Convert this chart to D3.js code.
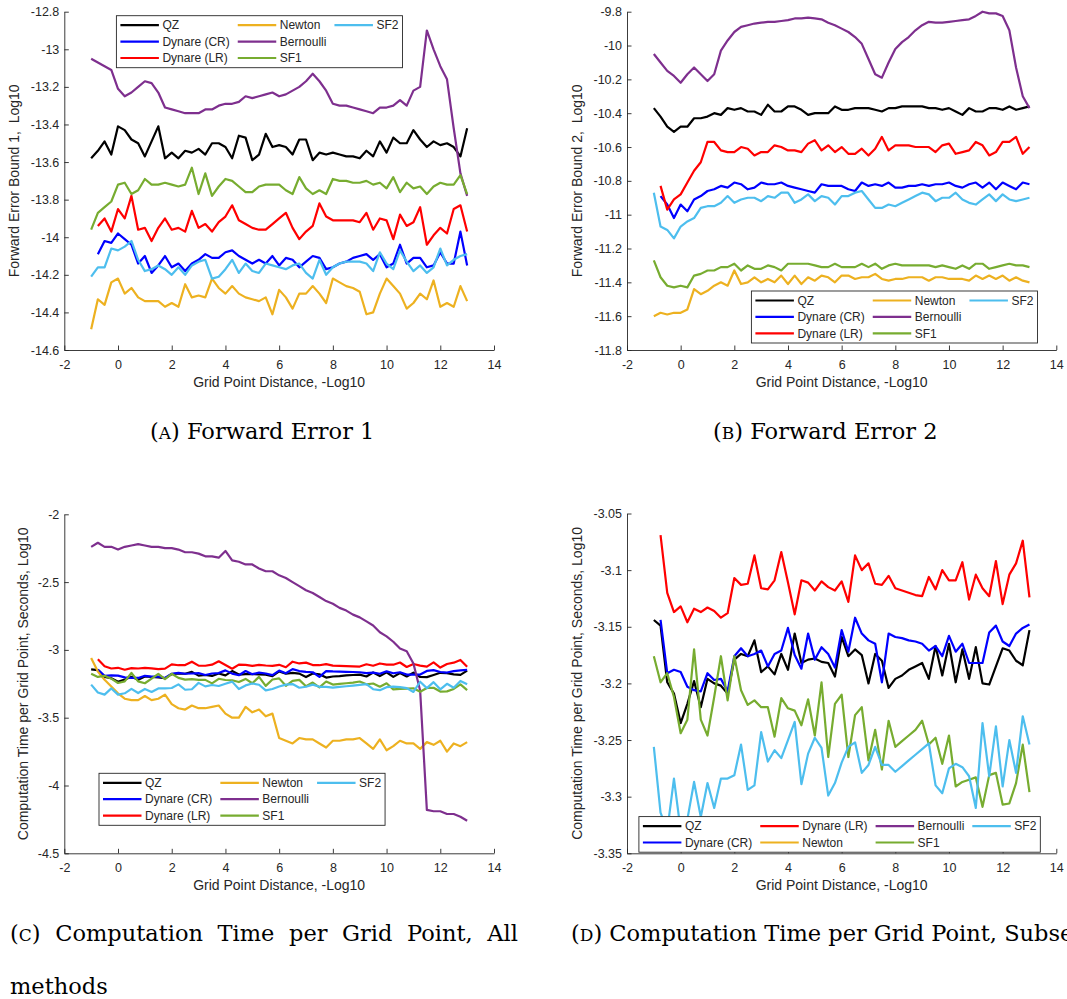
<!DOCTYPE html>
<html>
<head>
<meta charset="utf-8">
<script src="https://cdn.jsdelivr.net/npm/d3@7"></script>
<style>
  body { margin: 0; background: #fff; }
  svg { display: block; }
</style>
</head>
<body>
<script>
// grid point distance, -log10 (same grid for every panel)
const gridX = [
  -1, -0.75, -0.5, -0.25, 0, 0.25, 0.5, 0.75, 1, 1.25, 1.5, 1.75,
  2, 2.25, 2.5, 2.75, 3, 3.25, 3.5, 3.75, 4, 4.25, 4.5, 4.75,
  5, 5.25, 5.5, 5.75, 6, 6.25, 6.5, 6.75, 7, 7.25, 7.5, 7.75,
  8, 8.25, 8.5, 8.75, 9, 9.25, 9.5, 9.75, 10, 10.25, 10.5, 10.75,
  11, 11.25, 11.5, 11.75, 12, 12.25, 12.5, 12.75, 13
]

const methods = ['QZ', 'Dynare (CR)', 'Dynare (LR)', 'Newton', 'Bernoulli', 'SF1', 'SF2']
const methodColors = ['#000000', '#0000ff', '#ff0000', '#edb120', '#7e2f8e', '#77ac30', '#4dbeee']

const xTicks = [-2, 0, 2, 4, 6, 8, 10, 12, 14]
const fe1Ticks = [-12.8, -13, -13.2, -13.4, -13.6, -13.8, -14, -14.2, -14.4, -14.6]
const fe2Ticks = [-9.8, -10, -10.2, -10.4, -10.6, -10.8, -11, -11.2, -11.4, -11.6, -11.8]
const timeAllTicks = [-2, -2.5, -3, -3.5, -4, -4.5]
const timeSubTicks = [-3.05, -3.1, -3.15, -3.2, -3.25, -3.3, -3.35]

// forward error bound 1, log10
const fe1QZ = [
  -13.58, -13.54, -13.49, -13.56, -13.41, -13.43, -13.48, -13.50,
  -13.57, -13.49, -13.41, -13.58, -13.55, -13.58, -13.54, -13.55,
  -13.53, -13.56, -13.50, -13.50, -13.52, -13.58, -13.46, -13.47,
  -13.59, -13.56, -13.45, -13.52, -13.51, -13.52, -13.56, -13.48,
  -13.48, -13.59, -13.55, -13.56, -13.55, -13.56, -13.57, -13.57,
  -13.58, -13.54, -13.57, -13.49, -13.55, -13.47, -13.50, -13.50,
  -13.43, -13.48, -13.52, -13.49, -13.51, -13.50, -13.52, -13.57, -13.42
]
const fe1DynareCR = [
  null, -14.09, -14.02, -14.03, -13.98, -14.01, -14.04, -14.14,
  -14.10, -14.19, -14.15, -14.10, -14.16, -14.14, -14.18, -14.14,
  -14.12, -14.09, -14.11, -14.11, -14.08, -14.07, -14.10, -14.12,
  -14.14, -14.12, -14.14, -14.10, -14.15, -14.11, -14.12, -14.16,
  -14.13, -14.10, -14.11, -14.17, -14.16, -14.14, -14.13, -14.11,
  -14.10, -14.09, -14.12, -14.09, -14.16, -14.14, -14.04, -14.14,
  -14.11, -14.11, -14.16, -14.15, -14.08, -14.14, -14.14, -13.97, -14.15
]
const fe1DynareLR = [
  null, -13.94, -13.90, -13.97, -13.85, -13.90, -13.78, -13.96,
  -13.95, -14.02, -13.95, -13.90, -13.96, -13.95, -13.97, -13.86,
  -13.95, -13.93, -13.97, -13.92, -13.89, -13.83, -13.91, -13.93,
  -13.95, -13.96, -13.96, -13.93, -13.90, -13.87, -13.95, -14.01,
  -13.97, -13.94, -13.82, -13.89, -13.91, -13.91, -13.91, -13.91,
  -13.92, -13.87, -13.96, -13.90, -13.91, -14.01, -13.88, -13.94,
  -13.92, -13.84, -14.04, -13.99, -13.95, -13.98, -13.85, -13.83, -13.97
]
const fe1Newton = [
  -14.49, -14.33, -14.36, -14.24, -14.22, -14.30, -14.27, -14.32,
  -14.34, -14.34, -14.34, -14.37, -14.35, -14.37, -14.25, -14.32,
  -14.31, -14.32, -14.22, -14.27, -14.30, -14.26, -14.30, -14.32,
  -14.33, -14.34, -14.32, -14.41, -14.28, -14.32, -14.38, -14.30,
  -14.30, -14.26, -14.30, -14.35, -14.22, -14.24, -14.26, -14.27,
  -14.29, -14.41, -14.40, -14.30, -14.22, -14.26, -14.30, -14.38,
  -14.35, -14.30, -14.33, -14.23, -14.37, -14.35, -14.37, -14.26, -14.34
]
const fe1Bernoulli = [
  -13.05, -13.07, -13.09, -13.11, -13.21, -13.25, -13.23, -13.20,
  -13.17, -13.18, -13.23, -13.31, -13.32, -13.33, -13.34, -13.34,
  -13.34, -13.32, -13.32, -13.30, -13.29, -13.29, -13.28, -13.25,
  -13.26, -13.25, -13.24, -13.23, -13.25, -13.24, -13.22, -13.20,
  -13.17, -13.13, -13.17, -13.22, -13.29, -13.30, -13.30, -13.31,
  -13.32, -13.33, -13.34, -13.31, -13.31, -13.30, -13.27, -13.30,
  -13.22, -13.20, -12.90, -13.00, -13.09, -13.16, -13.42, -13.66, -13.78
]
const fe1SF1 = [
  -13.96, -13.87, -13.84, -13.81, -13.72, -13.71, -13.77, -13.75,
  -13.69, -13.72, -13.72, -13.71, -13.72, -13.73, -13.72, -13.63,
  -13.77, -13.66, -13.78, -13.73, -13.69, -13.70, -13.73, -13.76,
  -13.76, -13.73, -13.72, -13.72, -13.72, -13.75, -13.77, -13.68,
  -13.74, -13.77, -13.75, -13.77, -13.69, -13.70, -13.70, -13.71,
  -13.71, -13.70, -13.72, -13.71, -13.74, -13.68, -13.76, -13.71,
  -13.74, -13.73, -13.77, -13.73, -13.71, -13.72, -13.72, -13.67, -13.77
]
const fe1SF2 = [
  -14.21, -14.16, -14.16, -14.06, -14.07, -14.05, -14.02, -14.12,
  -14.18, -14.17, -14.15, -14.17, -14.20, -14.16, -14.20, -14.15,
  -14.13, -14.12, -14.22, -14.21, -14.17, -14.12, -14.19, -14.14,
  -14.18, -14.19, -14.14, -14.15, -14.16, -14.17, -14.15, -14.14,
  -14.19, -14.22, -14.12, -14.20, -14.16, -14.14, -14.13, -14.13,
  -14.13, -14.14, -14.18, -14.08, -14.14, -14.17, -14.07, -14.13,
  -14.18, -14.15, -14.19, -14.16, -14.06, -14.15, -14.12, -14.10, -14.09
]

// forward error bound 2, log10
const fe2QZ = [
  -10.37, -10.42, -10.48, -10.51, -10.48, -10.48, -10.43, -10.43,
  -10.42, -10.40, -10.41, -10.37, -10.38, -10.37, -10.39, -10.39,
  -10.41, -10.35, -10.39, -10.39, -10.36, -10.36, -10.38, -10.41,
  -10.40, -10.40, -10.40, -10.36, -10.38, -10.38, -10.37, -10.37,
  -10.37, -10.38, -10.39, -10.37, -10.37, -10.36, -10.36, -10.36,
  -10.36, -10.37, -10.37, -10.38, -10.37, -10.39, -10.41, -10.37,
  -10.39, -10.39, -10.37, -10.37, -10.38, -10.36, -10.38, -10.37, -10.36
]
const fe2DynareCR = [
  null, -10.89, -10.94, -11.02, -10.94, -10.98, -10.91, -10.89,
  -10.86, -10.85, -10.83, -10.84, -10.81, -10.82, -10.85, -10.84,
  -10.81, -10.82, -10.82, -10.81, -10.83, -10.84, -10.85, -10.86,
  -10.87, -10.82, -10.83, -10.83, -10.83, -10.85, -10.86, -10.81,
  -10.83, -10.82, -10.83, -10.81, -10.84, -10.84, -10.83, -10.83,
  -10.82, -10.83, -10.82, -10.82, -10.81, -10.83, -10.84, -10.82,
  -10.81, -10.84, -10.81, -10.85, -10.81, -10.83, -10.85, -10.81, -10.82
]
const fe2DynareLR = [
  null, -10.83, -10.97, -10.91, -10.88, -10.81, -10.74, -10.69,
  -10.57, -10.57, -10.62, -10.63, -10.63, -10.60, -10.61, -10.65,
  -10.63, -10.63, -10.59, -10.60, -10.62, -10.62, -10.63, -10.58,
  -10.56, -10.62, -10.59, -10.63, -10.60, -10.64, -10.64, -10.61,
  -10.65, -10.61, -10.54, -10.62, -10.59, -10.59, -10.59, -10.60,
  -10.60, -10.60, -10.63, -10.59, -10.58, -10.64, -10.63, -10.62,
  -10.57, -10.59, -10.65, -10.63, -10.57, -10.57, -10.54, -10.64, -10.60
]
const fe2Newton = [
  -11.60, -11.58, -11.59, -11.58, -11.58, -11.56, -11.44, -11.47,
  -11.45, -11.42, -11.40, -11.42, -11.33, -11.41, -11.40, -11.37,
  -11.40, -11.38, -11.40, -11.36, -11.41, -11.36, -11.41, -11.37,
  -11.39, -11.36, -11.37, -11.40, -11.36, -11.36, -11.38, -11.37,
  -11.37, -11.35, -11.38, -11.39, -11.38, -11.38, -11.37, -11.37,
  -11.37, -11.39, -11.37, -11.37, -11.38, -11.38, -11.38, -11.39,
  -11.36, -11.38, -11.36, -11.38, -11.36, -11.39, -11.37, -11.39, -11.40
]
const fe2Bernoulli = [
  -10.05, -10.10, -10.15, -10.18, -10.22, -10.17, -10.13, -10.17,
  -10.21, -10.17, -10.03, -9.97, -9.92, -9.89, -9.88, -9.87,
  -9.865, -9.86, -9.86, -9.855, -9.85, -9.84, -9.84, -9.835,
  -9.84, -9.845, -9.865, -9.88, -9.90, -9.92, -9.95, -9.99,
  -10.08, -10.17, -10.19, -10.10, -10.02, -9.98, -9.95, -9.91,
  -9.88, -9.86, -9.865, -9.865, -9.86, -9.855, -9.85, -9.845,
  -9.825, -9.80, -9.81, -9.81, -9.825, -9.91, -10.13, -10.30, -10.37
]
const fe2SF1 = [
  -11.27, -11.37, -11.42, -11.43, -11.42, -11.43, -11.36, -11.35,
  -11.33, -11.33, -11.31, -11.31, -11.29, -11.33, -11.30, -11.32,
  -11.32, -11.30, -11.31, -11.33, -11.29, -11.29, -11.29, -11.29,
  -11.30, -11.31, -11.31, -11.29, -11.31, -11.31, -11.31, -11.29,
  -11.31, -11.29, -11.32, -11.30, -11.29, -11.30, -11.30, -11.30,
  -11.30, -11.30, -11.31, -11.30, -11.31, -11.32, -11.30, -11.32,
  -11.29, -11.29, -11.32, -11.31, -11.30, -11.29, -11.30, -11.30, -11.31
]
const fe2SF2 = [
  -10.87, -11.07, -11.09, -11.14, -11.07, -11.04, -11.02, -10.96,
  -10.95, -10.95, -10.93, -10.89, -10.93, -10.91, -10.90, -10.90,
  -10.92, -10.89, -10.90, -10.87, -10.87, -10.93, -10.91, -10.88,
  -10.92, -10.89, -10.90, -10.94, -10.89, -10.89, -10.87, -10.86,
  -10.91, -10.96, -10.96, -10.94, -10.95, -10.93, -10.91, -10.89,
  -10.87, -10.88, -10.92, -10.90, -10.90, -10.87, -10.91, -10.93,
  -10.94, -10.91, -10.88, -10.92, -10.88, -10.91, -10.92, -10.91, -10.90
]

// computation time per grid point, seconds, log10
const timeQZ = [
  -3.144, -3.149, -3.199, -3.209, -3.235, -3.218, -3.198, -3.221,
  -3.196, -3.200, -3.202, -3.209, -3.179, -3.174, -3.176, -3.162,
  -3.190, -3.185, -3.192, -3.174, -3.188, -3.156, -3.182, -3.179,
  -3.178, -3.181, -3.182, -3.194, -3.159, -3.176, -3.170, -3.175,
  -3.200, -3.174, -3.180, -3.204, -3.196, -3.193, -3.188, -3.185,
  -3.182, -3.196, -3.167, -3.193, -3.165, -3.199, -3.170, -3.196,
  -3.168, -3.200, -3.201, -3.185, -3.169, -3.171, -3.180, -3.184, -3.153
]
const timeDynareCR = [
  null, -3.144, -3.191, -3.188, -3.190, -3.203, -3.206, -3.207,
  -3.191, -3.197, -3.196, -3.207, -3.176, -3.169, -3.176, -3.174,
  -3.171, -3.185, -3.174, -3.171, -3.151, -3.175, -3.187, -3.156,
  -3.179, -3.168, -3.174, -3.186, -3.153, -3.172, -3.142, -3.156,
  -3.162, -3.165, -3.199, -3.156, -3.159, -3.160, -3.162, -3.163,
  -3.165, -3.171, -3.167, -3.176, -3.158, -3.172, -3.165, -3.182,
  -3.182, -3.182, -3.155, -3.149, -3.163, -3.167, -3.156, -3.151, -3.148
]
const timeDynareLR = [
  null, -3.069, -3.120, -3.137, -3.132, -3.146, -3.134, -3.137,
  -3.133, -3.136, -3.142, -3.138, -3.107, -3.113, -3.112, -3.087,
  -3.116, -3.117, -3.109, -3.084, -3.111, -3.139, -3.109, -3.111,
  -3.118, -3.110, -3.115, -3.118, -3.110, -3.128, -3.087, -3.100,
  -3.094, -3.112, -3.113, -3.105, -3.116, -3.118, -3.120, -3.122,
  -3.123, -3.106, -3.117, -3.100, -3.109, -3.109, -3.093, -3.126,
  -3.104, -3.116, -3.123, -3.092, -3.130, -3.104, -3.094, -3.074, -3.124
]
const timeNewton = [
  -3.06, -3.16, -3.22, -3.27, -3.32, -3.36, -3.37, -3.37,
  -3.34, -3.37, -3.36, -3.33, -3.40, -3.43, -3.44, -3.41,
  -3.43, -3.43, -3.42, -3.41, -3.47, -3.50, -3.50, -3.42,
  -3.46, -3.44, -3.49, -3.47, -3.65, -3.67, -3.69, -3.65,
  -3.66, -3.66, -3.69, -3.72, -3.67, -3.67, -3.66, -3.66,
  -3.65, -3.69, -3.73, -3.66, -3.74, -3.71, -3.67, -3.69,
  -3.69, -3.73, -3.68, -3.70, -3.67, -3.75, -3.69, -3.71, -3.68
]
const timeBernoulli = [
  -2.24, -2.21, -2.24, -2.24, -2.26, -2.24, -2.23, -2.22,
  -2.23, -2.24, -2.24, -2.25, -2.25, -2.26, -2.28, -2.28,
  -2.29, -2.31, -2.31, -2.32, -2.27, -2.34, -2.35, -2.37,
  -2.37, -2.40, -2.42, -2.42, -2.45, -2.47, -2.50, -2.53,
  -2.56, -2.58, -2.61, -2.64, -2.66, -2.69, -2.71, -2.74,
  -2.76, -2.79, -2.82, -2.87, -2.90, -2.94, -2.99, -3.01,
  -3.10, -3.30, -4.18, -4.19, -4.19, -4.21, -4.21, -4.23, -4.26
]
const timeSF1 = [
  -3.176, -3.199, -3.191, -3.212, -3.244, -3.232, -3.170, -3.232,
  -3.246, -3.212, -3.176, -3.215, -3.176, -3.206, -3.219, -3.215,
  -3.221, -3.221, -3.247, -3.213, -3.222, -3.224, -3.237, -3.214,
  -3.246, -3.199, -3.265, -3.218, -3.210, -3.265, -3.228, -3.221,
  -3.268, -3.241, -3.276, -3.233, -3.256, -3.251, -3.246, -3.241,
  -3.233, -3.254, -3.248, -3.271, -3.246, -3.291, -3.287, -3.285,
  -3.283, -3.309, -3.281, -3.279, -3.307, -3.306, -3.288, -3.254, -3.296
]
const timeSF2 = [
  -3.256, -3.314, -3.330, -3.284, -3.330, -3.320, -3.287, -3.318,
  -3.288, -3.310, -3.284, -3.284, -3.281, -3.254, -3.294, -3.290,
  -3.243, -3.269, -3.259, -3.266, -3.250, -3.234, -3.289, -3.262,
  -3.248, -3.257, -3.299, -3.288, -3.270, -3.256, -3.252, -3.279,
  -3.272, -3.256, -3.272, -3.272, -3.278, -3.273, -3.268, -3.263,
  -3.258, -3.253, -3.290, -3.297, -3.275, -3.271, -3.274, -3.282,
  -3.310, -3.235, -3.282, -3.238, -3.291, -3.250, -3.279, -3.229, -3.254
]

// measurements for the figure
const m = { width: 1067, height: 999 }
const font = "'Liberation Sans', Arial, Helvetica, sans-serif"
const ink = '#262626'

const panels = [
  {
    left: 64.3, right: 494, top: 11.7, bottom: 350,
    yDomain: [-14.6, -12.8], yTicks: fe1Ticks,
    ylabel: 'Forward Error Bound 1,  Log10', ylabelX: 19,
    series: [fe1QZ, fe1DynareCR, fe1DynareLR, fe1Newton, fe1Bernoulli, fe1SF1, fe1SF2],
    legend: { x: 116.4, y: 15.7, rows: 3 }
  },
  {
    left: 627, right: 1056.3, top: 11.7, bottom: 350,
    yDomain: [-11.8, -9.8], yTicks: fe2Ticks,
    ylabel: 'Forward Error Bound 2,  Log10', ylabelX: 581.5,
    series: [fe2QZ, fe2DynareCR, fe2DynareLR, fe2Newton, fe2Bernoulli, fe2SF1, fe2SF2],
    legend: { x: 751.4, y: 291, rows: 3 }
  },
  {
    left: 64.3, right: 494, top: 514.3, bottom: 853.3,
    yDomain: [-4.5, -2], yTicks: timeAllTicks,
    ylabel: 'Computation Time per Grid Point, Seconds, Log10', ylabelX: 28,
    series: [timeQZ, timeDynareCR, timeDynareLR, timeNewton, timeBernoulli, timeSF1, timeSF2],
    legend: { x: 99, y: 773.3, rows: 3 }
  },
  {
    // subset: Newton and Bernoulli stay in the legend but are not drawn
    left: 627, right: 1056.3, top: 513.5, bottom: 853.3,
    yDomain: [-3.35, -3.05], yTicks: timeSubTicks,
    ylabel: 'Computation Time per Grid Point, Seconds, Log10', ylabelX: 582,
    series: [timeQZ, timeDynareCR, timeDynareLR, null, null, timeSF1, timeSF2],
    legend: { x: 638.9, y: 816.6, rows: 2 }
  }
]

const svg = d3.select('body').append('svg')
  .attr('width', m.width)
  .attr('height', m.height)
  .style('background', '#fff')

panels.forEach((p, pi) => {
  const xScale = d3.scaleLinear().domain([-2, 14]).range([p.left, p.right])
  const yScale = d3.scaleLinear().domain(p.yDomain).range([p.bottom, p.top])

  const clipId = 'clip' + pi
  svg.append('clipPath').attr('id', clipId)
    .append('rect')
    .attr('x', p.left).attr('y', p.top - 2)
    .attr('width', p.right - p.left).attr('height', p.bottom - p.top + 2)

  // axes, MATLAB style: ticks inside, no box
  const xAxis = d3.axisBottom(xScale)
    .tickValues(xTicks).tickFormat(d => String(d))
    .tickSizeInner(-4.5).tickSizeOuter(0).tickPadding(10)
  const gx = svg.append('g')
    .attr('transform', `translate(0,${p.bottom})`)
    .attr('color', ink)
    .call(xAxis)

  const yAxis = d3.axisLeft(yScale)
    .tickValues(p.yTicks).tickFormat(d => String(d))
    .tickSizeInner(-4.5).tickSizeOuter(0).tickPadding(5)
  const gy = svg.append('g')
    .attr('transform', `translate(${p.left},0)`)
    .attr('color', ink)
    .call(yAxis)

  ;[gx, gy].forEach(g => {
    g.attr('font-family', font).attr('font-size', 12.5)
    g.selectAll('path, line').attr('stroke-width', 0.9)
  })

  // lines
  const line = d3.line()
    .defined(d => d[1] != null)
    .x(d => xScale(d[0]))
    .y(d => yScale(d[1]))

  const plot = svg.append('g').attr('clip-path', `url(#${clipId})`)
  p.series.forEach((vals, i) => {
    if (!vals) return
    plot.append('path')
      .datum(gridX.map((x, k) => [x, vals[k]]))
      .attr('d', line)
      .attr('fill', 'none')
      .attr('stroke', methodColors[i])
      .attr('stroke-width', 2.2)
      .attr('stroke-linejoin', 'round')
  })

  // axis labels
  svg.append('text')
    .attr('x', (p.left + p.right) / 2)
    .attr('y', p.bottom + 37)
    .attr('text-anchor', 'middle')
    .attr('font-family', font).attr('font-size', 14)
    .attr('fill', ink)
    .text('Grid Point Distance, -Log10')

  svg.append('text')
    .attr('transform', `translate(${p.ylabelX},${(p.top + p.bottom) / 2})rotate(-90)`)
    .attr('text-anchor', 'middle')
    .attr('font-family', font).attr('font-size', 14)
    .attr('fill', ink)
    .style('white-space', 'pre')
    .text(p.ylabel)

  // legend, filled column by column
  const lg = svg.append('g').attr('transform', `translate(${p.legend.x},${p.legend.y})`)
  const box = lg.append('rect')
    .attr('fill', '#fff').attr('stroke', ink).attr('stroke-width', 0.9)
  const rowH = 16.4, lineLen = 38.5, gap = 3.5, colGap = 8
  const nCols = Math.ceil(methods.length / p.legend.rows)
  let colX = 4
  let right = 0
  for (let c = 0; c < nCols; c++) {
    let maxW = 0
    for (let r = 0; r < p.legend.rows; r++) {
      const i = c * p.legend.rows + r
      if (i >= methods.length) break
      const cy = 9.5 + r * rowH
      lg.append('line')
        .attr('x1', colX).attr('x2', colX + lineLen)
        .attr('y1', cy).attr('y2', cy)
        .attr('stroke', methodColors[i]).attr('stroke-width', 2.2)
      const t = lg.append('text')
        .attr('x', colX + lineLen + gap).attr('y', cy)
        .attr('dy', '0.35em')
        .attr('font-family', font).attr('font-size', 12)
        .attr('fill', ink)
        .text(methods[i])
      maxW = Math.max(maxW, t.node().getComputedTextLength())
    }
    right = colX + lineLen + gap + maxW
    colX = right + colGap
  }
  box.attr('x', 0).attr('y', 0)
    .attr('width', right + 4)
    .attr('height', 9.5 + (p.legend.rows - 1) * rowH + 9.7)
})

// captions under each panel
const capFont = "'DejaVu Serif', 'Liberation Serif', serif"
function caption(x, y, letter, rest) {
  const t = svg.append('text')
    .attr('x', x).attr('y', y)
    .attr('font-family', capFont).attr('font-size', 22.5)
    .attr('fill', '#000')
    .style('white-space', 'pre')
  t.append('tspan').text('(')
  t.append('tspan').attr('font-size', 17).text(letter)
  t.append('tspan').text(') ' + rest)
  return t
}

caption(150, 439, 'A', 'Forward Error 1')
caption(713, 439, 'B', 'Forward Error 2')

// the C caption is justified over the column width
const capC = caption(10, 941, 'C', 'Computation Time per Grid Point, All')
const natural = capC.node().getComputedTextLength()
capC.attr('word-spacing', Math.max(0, (508 - natural) / 6))

svg.append('text')
  .attr('x', 10).attr('y', 994)
  .attr('font-family', capFont).attr('font-size', 22.5)
  .attr('fill', '#000')
  .text('methods')

// runs past the right edge, as in the original page
caption(571, 941, 'D', 'Computation Time per Grid Point, Subset')
</script>
</body>
</html>
